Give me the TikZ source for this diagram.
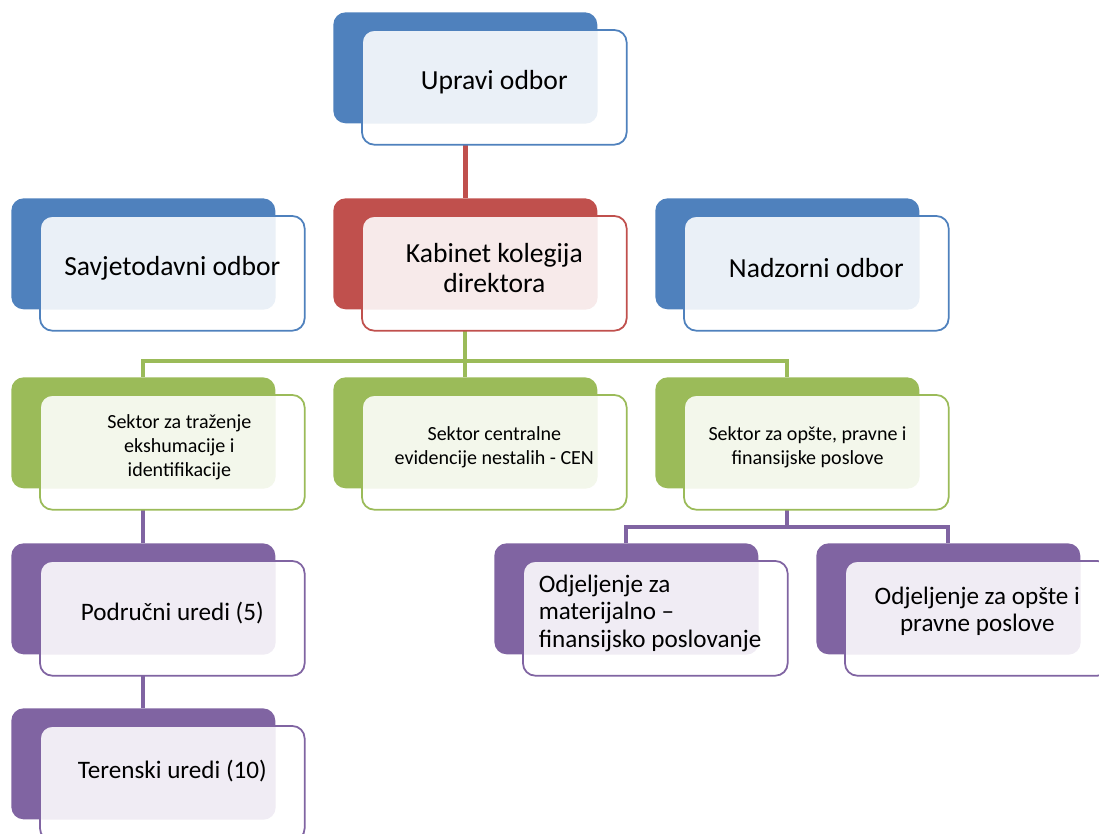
\documentclass[tikz,border=0pt]{standalone}
\usepackage{fontspec}
\setmainfont{Carlito}
\usetikzlibrary{calc,backgrounds}
\definecolor{UnitBlue}{HTML}{4F81BD}
\definecolor{UnitRed}{HTML}{C0504D}
\definecolor{UnitGreen}{HTML}{9BBB59}
\definecolor{UnitPurple}{HTML}{8064A2}

% one org unit: colour card behind, white card in front, tinted overlap, label
\newcommand{\orgunit}[6]{%
  \node[backbox, fill=#2, anchor=north west] (#1B) at (#3,#4) {};
  \node[frontbox, anchor=north west] (#1F) at ($(#3,#4)+(29,18)$) {};
  \begin{scope}
    \clip[rounded corners=7pt] (#1F.south west) rectangle (#1F.north east);
    \fill[#2!12, rounded corners=7pt] (#1B.south west) rectangle (#1B.north east);
  \end{scope}
  \draw[#2, line width=1pt, rounded corners=7pt] (#1F.south west) rectangle (#1F.north east);
  \node[#6] (#1T) at (#1F.center) {#5};
}

\begin{document}
\begin{tikzpicture}[x=0.02cm, y=-0.02cm,
  backbox/.style={rounded corners=7pt, minimum width=5.28cm, minimum height=2.22cm,
                  inner sep=0pt},
  frontbox/.style={rounded corners=7pt, fill=white, minimum width=5.28cm,
                   minimum height=2.28cm, inner sep=0pt},
  big/.style={align=center, font=\fontsize{15.7}{17}\selectfont, yshift=3pt},
  small/.style={align=center, font=\fontsize{11.4}{13.6}\selectfont, yshift=3pt},
  mid/.style={align=center, font=\fontsize{14.3}{15.6}\selectfont, yshift=3pt},
  rline/.style={UnitRed, line width=2.6pt},
  gline/.style={UnitGreen, line width=2.2pt},
  pline/.style={UnitPurple, line width=2.2pt}]
  \useasboundingbox (0,0) rectangle (1099,834);

  \orgunit{up}{UnitBlue}{333}{12}{Upravi odbor}{big}
  \orgunit{sav}{UnitBlue}{11}{198}{Savjetodavni odbor}{big}
  \orgunit{kab}{UnitRed}{333}{198}{Kabinet kolegija\\direktora}{big}
  \orgunit{nad}{UnitBlue}{655}{198}{Nadzorni odbor}{big}

  \orgunit{traz}{UnitGreen}{11}{377}{Sektor za traženje\\ekshumacije i\\identifikacije}{small, xshift=4pt}
  \orgunit{cen}{UnitGreen}{333}{377}{Sektor centralne\\evidencije nestalih - CEN}{small}
  \orgunit{ops}{UnitGreen}{655}{377}{Sektor za opšte, pravne i\\finansijske poslove}{small, xshift=-5pt}

  \orgunit{pod}{UnitPurple}{11}{543}{Područni uredi (5)}{mid}
  \orgunit{mat}{UnitPurple}{494}{543}{Odjeljenje za\\materijalno –\\finansijsko poslovanje}{mid, align=left, xshift=-3pt, yshift=0pt}
  \orgunit{odj}{UnitPurple}{816}{543}{Odjeljenje za opšte i\\pravne poslove}{mid, yshift=1pt}
  \orgunit{ter}{UnitPurple}{11}{708}{Terenski uredi (10)}{mid, yshift=4pt}

  \coordinate (gbus) at (0,361);
  \coordinate (pbus) at (0,527);

  \begin{scope}[on background layer]
    \draw[rline] (upB.south) -- (kabB.north);
    \draw[gline] (kabB.south) -- (kabB.south |- gbus);
    \draw[gline] (trazB.north) |- (opsB.north |- gbus) -- (opsB.north);
    \draw[gline] (cenB.north) -- (cenB.north |- gbus);
    \draw[pline] (trazB.south) -- (podB.north);
    \draw[pline] (podB.south) -- (terB.north);
    \draw[pline] (opsB.south) -- (opsB.south |- pbus);
    \draw[pline] (matB.north) |- (odjB.north |- pbus) -- (odjB.north);
  \end{scope}
\end{tikzpicture}
\end{document}
